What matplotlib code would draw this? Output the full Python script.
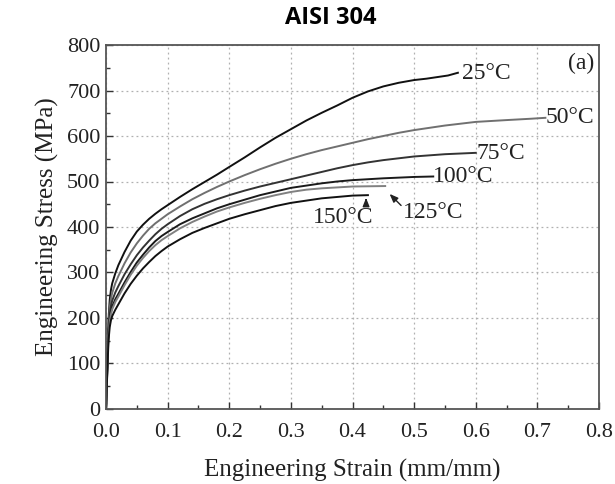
import matplotlib
matplotlib.use("Agg")
import matplotlib.pyplot as plt
from matplotlib.ticker import MultipleLocator, FormatStrFormatter

# ---- data ----
strain_25 = [0, 0.002, 0.004, 0.006, 0.008, 0.01, 0.015, 0.02, 0.03, 0.04, 0.05, 0.06, 0.07, 0.08, 0.09, 0.1,
             0.12, 0.14, 0.16, 0.18, 0.2, 0.225, 0.25, 0.275, 0.3, 0.325, 0.35, 0.375, 0.4, 0.425, 0.45,
             0.475, 0.5, 0.52, 0.54, 0.555, 0.571]
stress_25 = [0, 100, 195, 240, 262, 276, 298, 316, 345, 370, 390, 405, 418, 429, 439, 448,
             466, 483, 499, 515, 532, 553, 575, 596, 615, 634, 651, 667, 684, 698, 709,
             717, 723, 726, 730, 733, 739]

strain_50 = [0, 0.002, 0.004, 0.006, 0.008, 0.01, 0.015, 0.02, 0.03, 0.04, 0.05, 0.06, 0.07, 0.08, 0.09, 0.1,
             0.12, 0.14, 0.16, 0.18, 0.2, 0.225, 0.25, 0.275, 0.3, 0.325, 0.35, 0.375, 0.4, 0.425, 0.45,
             0.475, 0.5, 0.55, 0.6, 0.65, 0.69, 0.713]
stress_50 = [0, 95, 185, 222, 242, 255, 276, 292, 320, 344, 364, 381, 396, 408, 418, 428,
             445, 461, 475, 488, 500, 514, 527, 539, 550, 560, 569, 577, 585, 593, 600,
             607, 613, 623, 631, 635, 638, 640]

strain_75 = [0, 0.002, 0.004, 0.006, 0.008, 0.01, 0.015, 0.02, 0.03, 0.04, 0.05, 0.06, 0.07, 0.08, 0.09, 0.1,
             0.12, 0.14, 0.16, 0.18, 0.2, 0.225, 0.25, 0.275, 0.3, 0.325, 0.35, 0.375, 0.4, 0.425, 0.45,
             0.475, 0.5, 0.55, 0.6]
stress_75 = [0, 90, 175, 208, 226, 238, 256, 270, 296, 318, 338, 355, 370, 384, 396, 406,
             424, 439, 451, 461, 470, 480, 489, 497, 505, 513, 521, 529, 536, 542, 547,
             551, 555, 560, 563]

strain_100 = [0, 0.002, 0.004, 0.006, 0.008, 0.01, 0.015, 0.02, 0.03, 0.04, 0.05, 0.06, 0.07, 0.08, 0.09, 0.1,
              0.12, 0.14, 0.16, 0.18, 0.2, 0.225, 0.25, 0.275, 0.3, 0.325, 0.35, 0.375, 0.4, 0.45, 0.5, 0.531]
stress_100 = [0, 85, 168, 198, 214, 225, 241, 253, 278, 301, 322, 339, 355, 369, 380, 389,
              406, 419, 430, 441, 450, 460, 470, 478, 486, 491, 496, 500, 503, 507, 510, 511]

strain_125 = [0, 0.002, 0.004, 0.006, 0.008, 0.01, 0.015, 0.02, 0.03, 0.04, 0.05, 0.06, 0.07, 0.08, 0.09, 0.1,
              0.12, 0.14, 0.16, 0.18, 0.2, 0.225, 0.25, 0.275, 0.3, 0.325, 0.35, 0.375, 0.4, 0.453]
stress_125 = [0, 82, 162, 192, 208, 219, 235, 247, 272, 295, 315, 332, 347, 360, 371, 380,
              397, 411, 423, 434, 443, 453, 462, 470, 477, 482, 485, 487, 489, 490]

strain_150 = [0, 0.002, 0.004, 0.006, 0.008, 0.01, 0.015, 0.02, 0.03, 0.04, 0.05, 0.06, 0.07, 0.08, 0.09, 0.1,
              0.12, 0.14, 0.16, 0.18, 0.2, 0.225, 0.25, 0.275, 0.3, 0.325, 0.35, 0.375, 0.4, 0.425]
stress_150 = [0, 78, 150, 180, 195, 204, 218, 230, 254, 275, 293, 309, 323, 336, 347, 357,
              373, 387, 398, 408, 418, 428, 437, 446, 453, 458, 463, 466, 469, 470]

labels = ["25°C", "50°C", "75°C", "100°C", "125°C", "150°C"]
x_ticks = [0.0, 0.1, 0.2, 0.3, 0.4, 0.5, 0.6, 0.7, 0.8]
y_ticks = [0, 100, 200, 300, 400, 500, 600, 700, 800]

series = [
    (strain_25, stress_25, "#111111"),
    (strain_50, stress_50, "#707070"),
    (strain_75, stress_75, "#333333"),
    (strain_100, stress_100, "#1a1a1a"),
    (strain_125, stress_125, "#808080"),
    (strain_150, stress_150, "#111111"),
]

serif = ["Liberation Serif", "DejaVu Serif"]

fig = plt.figure(figsize=(6.15, 4.84), dpi=100)
ax = fig.add_axes([0.1724, 0.155, 0.8016, 0.752])

for sx, sy, c in series:
    ax.plot(sx, sy, color=c, lw=1.4, solid_joinstyle="round")

ax.set_xlim(0, 0.8)
ax.set_ylim(0, 800)
ax.set_xticks(x_ticks)
ax.set_yticks(y_ticks)
ax.xaxis.set_minor_locator(MultipleLocator(0.05))
ax.yaxis.set_minor_locator(MultipleLocator(50))
ax.xaxis.set_major_formatter(FormatStrFormatter("%.1f"))
ax.tick_params(which="both", direction="in", top=False, right=False, colors="#333333", labelcolor="#222222")
ax.tick_params(which="major", length=5, width=1.0, labelsize=16)
ax.tick_params(axis="x", which="major", pad=10)
ax.tick_params(axis="y", which="major", pad=4)
ax.tick_params(which="minor", length=3, width=1.0)
for lab in ax.get_xticklabels() + ax.get_yticklabels():
    lab.set_family(serif)

ax.grid(True, which="major", color="#b0b0b0", lw=0.9, ls=(0, (1.5, 2.5)))
for s in ax.spines.values():
    s.set_color("#555555")
    s.set_linewidth(1.3)

ax.set_xlabel("Engineering Strain (mm/mm)", fontsize=18, family=serif, color="#222222", labelpad=12)
ax.set_ylabel("Engineering Stress (MPa)", fontsize=18, family=serif, color="#222222", labelpad=6)

tk = dict(fontsize=17, family=serif, color="#222222", va="center", ha="left")
ax.text(0.578, 738, labels[0], **tk)
ax.text(0.714, 641, labels[1], **tk)
ax.text(0.601, 561, labels[2], **tk)
ax.text(0.531, 510, labels[3], **tk)
ax.text(0.481, 431, labels[4], **tk)
ax.text(0.335, 420, labels[5], **tk)
ax.text(0.792, 760, "(a)", fontsize=17, family=serif, color="#222222", va="center", ha="right")

ax.annotate("", xy=(0.457, 477), xytext=(0.482, 443),
            arrowprops=dict(arrowstyle="-|>,head_length=0.5,head_width=0.2", color="#222222", lw=1.0))
ax.annotate("", xy=(0.422, 470), xytext=(0.422, 450),
            arrowprops=dict(arrowstyle="-|>,head_length=0.5,head_width=0.2", color="#222222", lw=1.0))

fig.text(0.537, 0.962, "AISI 304", fontsize=17, fontweight="bold", family=["Open Sans", "DejaVu Sans"],
         ha="center", va="center", color="black")

fig.savefig("out.png", dpi=100)
